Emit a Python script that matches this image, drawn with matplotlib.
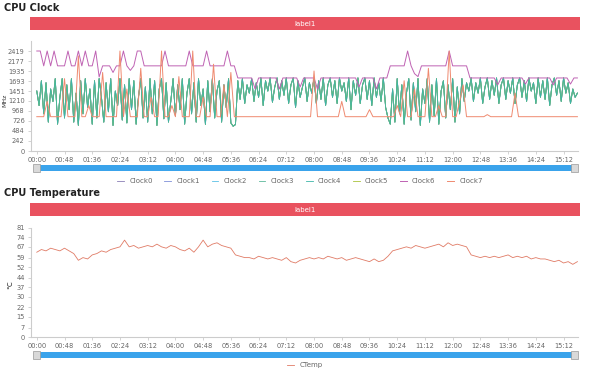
import numpy as np
import matplotlib
matplotlib.use('Agg')
import matplotlib.pyplot as plt
from matplotlib.patches import Rectangle

#figure size in pixels, everything below is placed in pixel units
W, H = 596, 371

#x tick labels (mm:ss), one every 48 s
tick_secs = [0, 48, 96, 144, 192, 240, 288, 336, 384, 432, 480, 528, 576, 624, 672, 720, 768, 816, 864, 912]
tick_labels = ['00:00', '00:48', '01:36', '02:24', '03:12', '04:00', '04:48', '05:36', '06:24', '07:12',
               '08:00', '08:48', '09:36', '10:24', '11:12', '12:00', '12:48', '13:36', '14:24', '15:12']

clock_yticks = [0, 242, 484, 726, 968, 1210, 1451, 1693, 1935, 2177, 2419]
temp_yticks = [0, 7, 15, 22, 30, 37, 44, 52, 59, 67, 74, 81]

#little cluster clock (MHz), sampled every 4 s, four phases of the run
small_t = np.arange(0, 940, 4)
small_a = [1450, 1100, 1700, 900, 1650, 700, 1500, 1200, 1750, 650,
           1300, 1750, 800, 1600, 1000, 1750, 700, 1400, 620, 1700,
           900, 1750, 1050, 1500, 650, 1700, 800, 1750, 1300, 700,
           1650, 950, 1750, 620, 1450, 1100, 1750, 750, 1600, 680,
           1750, 1000, 1700, 650, 1300, 1750, 800, 1550, 700, 1750,
           900, 1700, 620, 1500, 1750, 780, 1650, 700, 1200, 1750,
           850, 1600, 1000, 1750, 650, 1400, 1750, 900, 1650, 700,
           1750, 1100, 1500, 640, 1700, 950, 1750, 800, 1450, 1700,
           700, 1600, 1050, 1750, 680, 600, 640]
small_b = [1700, 1250, 1750, 1150, 1600, 1400, 1750, 1200, 1650, 1300,
           1767, 1100, 1700, 1450, 1767, 1180, 1550, 1767, 1250, 1700,
           1350, 1767, 1150, 1600, 1767, 1050, 1700, 1300, 1550, 1767,
           1200, 1650, 1400, 1767, 1150, 1700, 1250, 1767, 1100, 1600,
           1767, 1300, 1700, 1150, 1767, 1450, 1650, 1200, 1767, 1000,
           1700, 1350, 1767, 1150, 1600, 1767, 1250, 1700, 1100, 1767,
           1300, 1650, 1200, 1767, 1050, 800, 650]
small_c = [1500, 700, 1750, 900, 1600, 650, 1400, 1750, 750, 1650,
           950, 1750, 620, 1500, 1150, 1750, 700, 1600, 850, 1750,
           650, 1450, 1700, 800, 1600, 1000, 1750, 700, 1550, 900,
           1750, 1200, 1650, 1450]
small_d = [1767, 1200, 1650, 1400, 1767, 1150, 1550, 1767, 1250, 1700,
           1350, 1767, 1150, 1600, 1767, 1250, 1700, 1400, 1767, 1150,
           1600, 1767, 1300, 1700, 1200, 1767, 1450, 1650, 1150, 1767,
           1300, 1700, 1250, 1767, 1100, 1600, 1767, 1350, 1700, 1200,
           1767, 1400, 1650, 1150, 1500, 1300, 1400]
small_clock = small_a + small_b + small_c + small_d

#big and prime cores, sampled every 6 s
big_t = np.arange(0, 942, 6)
big_a = [2419, 2419, 2060, 2419, 2060, 2419, 2060, 2060, 2060, 2419,
         2060, 2060, 2419, 2060, 2419, 2060, 2060, 2419, 1790, 2060,
         2060, 2060, 1900, 2060, 2060, 2419, 2060, 1950, 2060, 2419,
         2419, 2060, 2060, 2060, 2060, 2060, 2060, 2419, 2060, 2060,
         2060, 2060, 2060, 2060, 2419, 2060, 2060, 2060, 2060, 2419,
         2060, 2060, 2060, 2060, 2060, 2419, 2060, 2060]
big_b = [1767, 1767, 1767, 1767, 1767, 1500, 1767, 1767, 1767, 1767,
         1767, 1767, 1500, 1767, 1767, 1767, 1767, 1767, 1550, 1767,
         1767, 1767, 1767, 1500, 1767, 1767, 1767, 1767, 1767, 1767,
         1767, 1767, 1767, 1767, 1767, 1550, 1767, 1767, 1767, 1767,
         1500, 1767, 1767, 1767]
big_c = [2060, 2060, 2060, 2060, 2060, 2419, 2060, 1870, 1800, 2060,
         2060, 2060, 2060, 2060, 2060, 2060, 2060, 2419, 2060, 2060,
         2060, 2060, 2060]
big_d = [1767, 1767, 1767, 1767, 1767, 1767, 1767, 1767, 1600, 1767,
         1767, 1767, 1767, 1767, 1767, 1767, 1620, 1767, 1767, 1767,
         1767, 1767, 1767, 1767, 1600, 1767, 1767, 1767, 1767, 1620,
         1767, 1767]
big_clock = big_a + big_b + big_c + big_d

prime_a = [830, 830, 830, 1200, 830, 830, 830, 830, 1750, 830,
           830, 830, 2300, 830, 830, 1100, 830, 830, 830, 1900,
           830, 830, 830, 830, 2419, 830, 1500, 830, 830, 830,
           2000, 830, 830, 1300, 830, 830, 2419, 830, 830, 1100,
           830, 1800, 830, 830, 830, 2419, 830, 830, 1300, 830,
           830, 2100, 830, 830, 1600, 830, 1900, 830]
prime_b = [830, 830, 830, 830, 830, 830, 830, 830, 830, 830,
           830, 830, 830, 830, 830, 830, 830, 830, 830, 830,
           830, 830, 1935, 830, 830, 830, 830, 830, 830, 830,
           1200, 830, 830, 830, 830, 830, 830, 830, 1000, 830,
           830, 830, 830, 830]
prime_c = [830, 830, 1100, 830, 1700, 830, 830, 1500, 830, 830,
           830, 2000, 830, 830, 1100, 830, 830, 2419, 830, 830,
           1200, 1600, 830]
prime_d = [830, 830, 830, 830, 830, 880, 830, 830, 830, 830,
           830, 830, 830, 1400, 830, 830, 830, 830, 830, 830,
           830, 830, 830, 830, 830, 830, 830, 830, 830, 830,
           830, 830]
prime_clock = prime_a + prime_b + prime_c + prime_d

#temperature samples every 8 s (deg C)
temp_t = np.arange(0, 944, 8)
temp = [63, 65, 64, 66, 65, 64, 66, 64, 62, 57,
        59, 58, 61, 62, 64, 63, 65, 66, 67, 72,
        67, 68, 66, 67, 68, 67, 69, 67, 66, 68,
        67, 65, 64, 66, 63, 67, 72, 67, 69, 70,
        68, 67, 66, 61,
        60, 59, 59, 58, 60, 59,
        58, 59, 58, 57, 59, 56, 55, 57, 58, 59,
        58, 59, 58, 60, 59, 58, 59, 57, 58, 59,
        58, 57, 56, 58, 56, 57,
        60, 64, 65, 66,
        67, 66, 68, 67, 66, 67, 68, 69, 67, 70,
        68, 69, 68, 67,
        61,
        60, 59, 60, 59, 60,
        59, 60, 61, 59, 60, 59, 60, 58, 59, 58,
        58, 57, 56, 57, 55, 56, 54, 56]

clock_names = ['Clock0', 'Clock1', 'Clock2', 'Clock3', 'Clock4', 'Clock5', 'Clock6', 'Clock7']
clock_colors = ['#8a7fb5', '#7e8fd8', '#5bc0e5', '#5cb89a', '#3db5a8', '#a9c33b', '#bf62b3', '#ef8a70']

txt = '#666666'
axcol = '#cccccc'

fig = plt.figure(figsize=(W / 100, H / 100), dpi=100)


def box(l, t, r, b):
    #pixel box -> figure fraction [left, bottom, width, height]
    return [l / W, 1 - b / H, (r - l) / W, (b - t) / H]


def style_axis(ax, yticks, ymax):
    ax.set_xlim(-10, 937)
    ax.set_ylim(0, ymax)
    ax.set_xticks(tick_secs)
    ax.set_xticklabels(tick_labels)
    ax.set_yticks(yticks)
    for s in ['top', 'right']:
        ax.spines[s].set_visible(False)
    for s in ['left', 'bottom']:
        ax.spines[s].set_color(axcol)
        ax.spines[s].set_linewidth(0.8)
    ax.tick_params(colors=axcol, labelcolor=txt, labelsize=4.8, length=2.5, width=0.6, pad=2)
    ax.set_facecolor('none')


def title_bar(y0):
    #red "label1" strip above each chart
    fig.add_artist(Rectangle((30 / W, 1 - (y0 + 13) / H), 550 / W, 13 / H,
                             transform=fig.transFigure, color='#e9525f', lw=0))
    fig.text(305 / W, 1 - (y0 + 6.5) / H, 'label1', color='white', fontsize=5,
             ha='center', va='center')


def slider(y0):
    #zoom slider under the x axis
    fig.add_artist(Rectangle((37 / W, 1 - (y0 + 6) / H), 540 / W, 6 / H,
                             transform=fig.transFigure, color='#3aa3eb', lw=0))
    for hx in [33, 571]:
        fig.add_artist(Rectangle((hx / W, 1 - (y0 + 7) / H), 7 / W, 8 / H,
                                 transform=fig.transFigure, facecolor='#d9d9d9',
                                 edgecolor='#999999', lw=0.5))


#top chart: CPU Clock
fig.text(4 / W, 1 - 8 / H, 'CPU Clock', fontsize=7, fontweight='bold', va='center', color='#222222')
title_bar(17)
ax1 = fig.add_axes(box(31, 41, 578, 151))
style_axis(ax1, clock_yticks, 2661)
lines = {}
#clocks 0-5 share the little-cluster trace, Clock4 drawn last so teal is on top
for i in [0, 1, 2, 3, 5, 4]:
    lines[clock_names[i]], = ax1.plot(small_t, small_clock, color=clock_colors[i], lw=0.6)
lines['Clock6'], = ax1.plot(big_t, big_clock, color=clock_colors[6], lw=0.7)
lines['Clock7'], = ax1.plot(big_t, prime_clock, color=clock_colors[7], lw=0.7)
fig.text(5 / W, 1 - 100 / H, 'MHz', fontsize=4.5, color='#333333', rotation=90,
         ha='center', va='center')
slider(165)

fig.legend([lines[n] for n in clock_names], clock_names, loc='center',
           bbox_to_anchor=(300 / W, 1 - 181 / H), ncol=8, frameon=False, fontsize=5,
           handlelength=1.0, handletextpad=0.8, columnspacing=1.6, labelcolor=txt)

#bottom chart: CPU Temperature
fig.text(4 / W, 1 - 193 / H, 'CPU Temperature', fontsize=7, fontweight='bold', va='center', color='#222222')
title_bar(203)
ax2 = fig.add_axes(box(31, 228, 578, 337))
style_axis(ax2, temp_yticks, 81)
temp_line, = ax2.plot(temp_t, temp, color='#e07b66', lw=0.6)
fig.text(10 / W, 1 - 285 / H, '℃', fontsize=5, color='#333333', rotation=90,
         ha='center', va='center')
slider(352)
fig.legend([temp_line], ['CTemp'], loc='center', bbox_to_anchor=(305 / W, 1 - 365 / H),
           frameon=False, fontsize=5, handlelength=1.0, handletextpad=0.8, labelcolor=txt)

fig.savefig('out.png', dpi=100)
